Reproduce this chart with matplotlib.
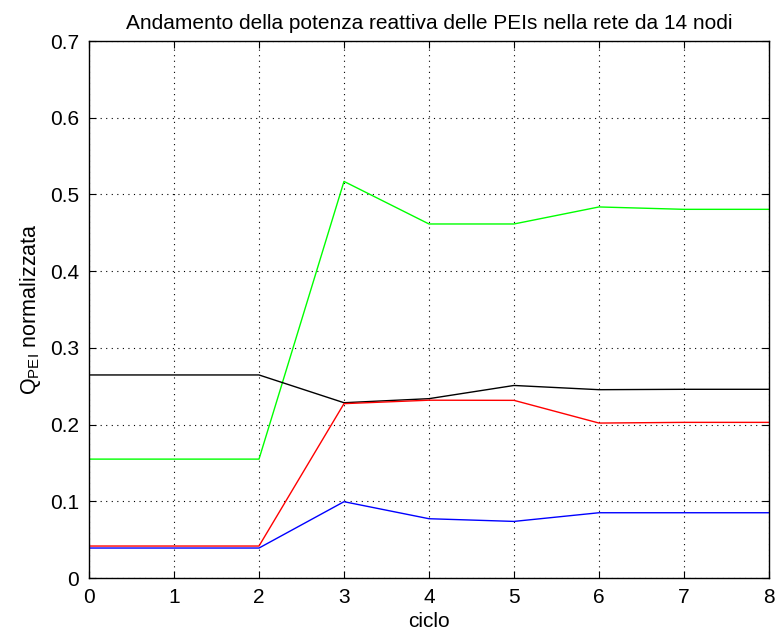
import matplotlib
matplotlib.use("Agg")
import matplotlib.pyplot as plt
import numpy as np

plt.rcParams['font.family'] = ['Liberation Sans', 'DejaVu Sans']
plt.rcParams['mathtext.fontset'] = 'custom'
plt.rcParams['mathtext.rm'] = 'Liberation Sans'
plt.rcParams['mathtext.it'] = 'Liberation Sans'

cicli = [0, 1, 2, 3, 4, 5, 6, 7, 8]
q_nero = [0.2647, 0.2647, 0.2647, 0.2285, 0.2338, 0.2510, 0.2455, 0.2460, 0.2460]
q_rosso = [0.0417, 0.0417, 0.0417, 0.2273, 0.2318, 0.2316, 0.2020, 0.2029, 0.2029]
q_blu = [0.0391, 0.0391, 0.0391, 0.0995, 0.0773, 0.0738, 0.0851, 0.0851, 0.0851]
q_verde = [0.155, 0.155, 0.155, 0.517, 0.4615, 0.4615, 0.4837, 0.4806, 0.4806]

xticks = [0, 1, 2, 3, 4, 5, 6, 7, 8]
yticks = [0, 0.1, 0.2, 0.3, 0.4, 0.5, 0.6, 0.7]

fig = plt.figure(figsize=(7.78, 6.30), dpi=100)
ax = fig.add_axes([0.1144, 0.0825, 0.8740, 0.8524])

ax.plot(cicli, q_verde, color='#00ff00', lw=1.0)
ax.plot(cicli, q_nero, color='black', lw=1.0)
ax.plot(cicli, q_rosso, color='red', lw=1.0)
ax.plot(cicli, q_blu, color='blue', lw=1.0)

ax.set_xlim(0, 8)
ax.set_ylim(0, 0.7)
ax.set_xticks(xticks)
ax.set_yticks(yticks)
ax.set_xticklabels([str(t) for t in xticks])
ax.set_yticklabels(['0'] + [f'{t:.1f}' for t in yticks[1:]])
ax.grid(True, color='black', linestyle=(0, (1, 4)), lw=0.8)
ax.tick_params(direction='in', top=True, right=True, labelsize=15, length=5, pad=7)
for s in ax.spines.values():
    s.set_linewidth(1.0)

ax.set_title('Andamento della potenza reattiva delle PEIs nella rete da 14 nodi', fontsize=15, pad=9)
ax.set_xlabel('ciclo', fontsize=15, labelpad=4)
ax.set_ylabel(r'Q$_{\mathrm{PEI}}$ normalizzata', fontsize=15.5, labelpad=5)

fig.savefig('out.png', dpi=100)
